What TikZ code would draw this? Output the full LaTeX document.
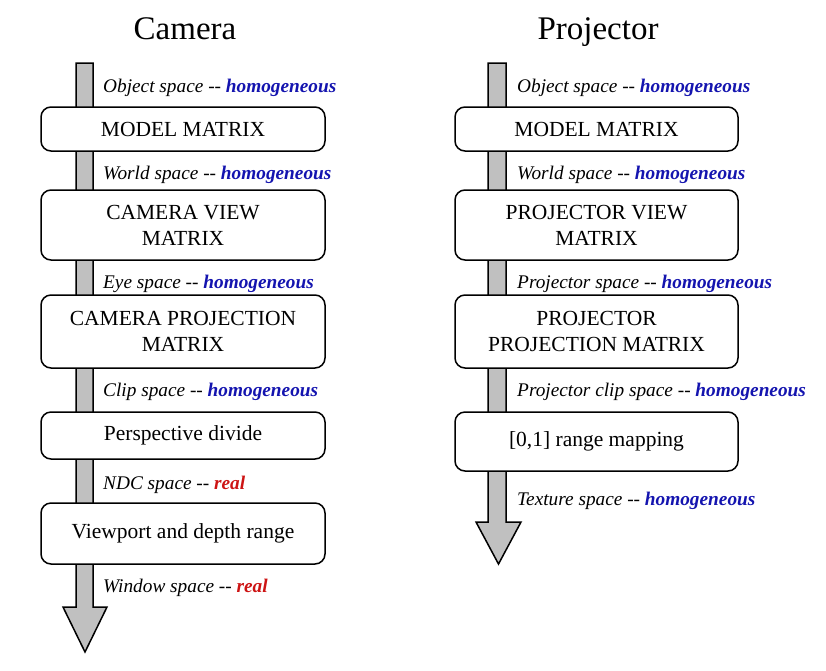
\documentclass[tikz,border=0pt]{standalone}
\usepackage{fontspec}
\setmainfont{Liberation Serif}
\definecolor{hblue}{RGB}{20,20,175}
\definecolor{rred}{RGB}{205,20,20}
\definecolor{shaft}{RGB}{192,192,192}
\tikzset{
  box/.style={draw=black, line width=1.5pt, rounded corners=10pt, fill=white,
    align=center, inner sep=0pt, font=\fontsize{21.5}{26}\selectfont},
  lab/.style={anchor=west, inner sep=0pt, font=\fontsize{19.3}{22}\selectfont},
  ttl/.style={anchor=base, inner sep=0pt, font=\fontsize{33}{38}\selectfont},
  flow/.style={draw=black, line width=1.5pt, fill=shaft, line join=miter}
}
\newcommand{\myhomog}{\textbf{\textit{\color{hblue}homogeneous}}}
\newcommand{\myreal}{\textbf{\textit{\color{rred}real}}}
\begin{document}
\begin{tikzpicture}[x=1pt,y=-1pt]
\useasboundingbox (0,0) rectangle (826,670);
% titles
\node[ttl] (tcam) at (185,39) {Camera};
\node[ttl] (tproj) at (598,39) {Projector};
% flow arrows
\path[flow] (76,63) -- (93,63) -- (93,607) -- (107,607) -- (85,652) -- (63,607) -- (76,607) -- cycle;
\path[flow] (488,63) -- (506,63) -- (506,522) -- (521,522) -- (498.5,564) -- (476,522) -- (488,522) -- cycle;
% camera boxes
\node[box, minimum width=284, minimum height=44] (cmodel) at (183,129) {MODEL MATRIX};
\node[box, minimum width=284, minimum height=70] (cview) at (183,225) {CAMERA VIEW\\MATRIX};
\node[box, minimum width=284, minimum height=73] (cproj) at (183,331.5) {CAMERA PROJECTION\\MATRIX};
\node[box, minimum width=284, minimum height=47] (cdiv) at (183,435.5) {Perspective divide};
\node[box, minimum width=284, minimum height=61] (cvp) at (183,533.5) {Viewport and depth range};
% camera labels
\node[lab] (lc1) at (103,88) {\textit{Object space -{}-} \myhomog};
\node[lab] (lc2) at (103,175) {\textit{World space -{}-} \myhomog};
\node[lab] (lc3) at (103,284) {\textit{Eye space -{}-} \myhomog};
\node[lab] (lc4) at (103,392) {\textit{Clip space -{}-} \myhomog};
\node[lab] (lc5) at (103,485) {\textit{NDC space -{}-} \myreal};
\node[lab] (lc6) at (103,588) {\textit{Window space -{}-} \myreal};
% projector boxes
\node[box, minimum width=283, minimum height=44] (pmodel) at (596.5,129) {MODEL MATRIX};
\node[box, minimum width=283, minimum height=70] (pview) at (596.5,225) {PROJECTOR VIEW\\MATRIX};
\node[box, minimum width=283, minimum height=73] (pproj) at (596.5,331.5) {PROJECTOR\\PROJECTION MATRIX};
\node[box, minimum width=283, minimum height=59] (prange) at (596.5,441.5) {[0,1] range mapping};
% projector labels
\node[lab] (lp1) at (517,88) {\textit{Object space -{}-} \myhomog};
\node[lab] (lp2) at (517,175) {\textit{World space -{}-} \myhomog};
\node[lab] (lp3) at (517,284) {\textit{Projector space -{}-} \myhomog};
\node[lab] (lp4) at (517,392) {\textit{Projector clip space -{}-} \myhomog};
\node[lab] (lp5) at (517,501) {\textit{Texture space -{}-} \myhomog};
\end{tikzpicture}
\end{document}
